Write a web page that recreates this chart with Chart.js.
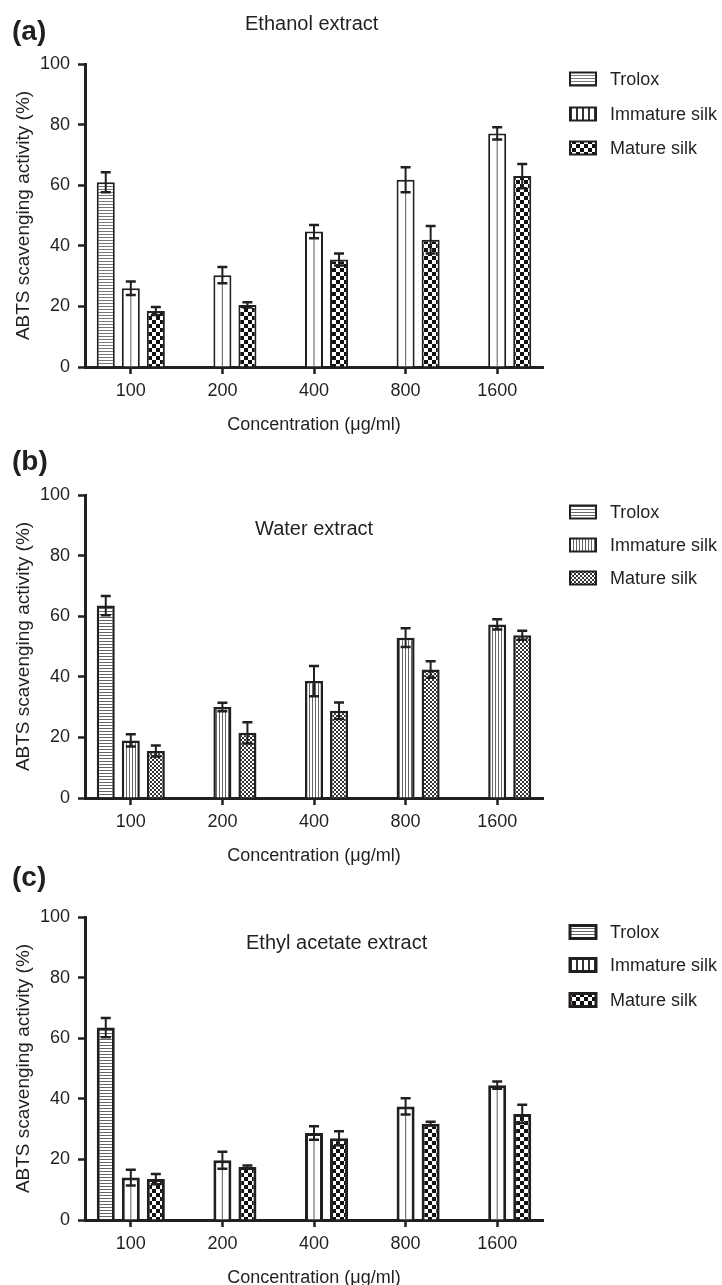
<!DOCTYPE html>
<html>
<head>
<meta charset="utf-8">
<script src="https://cdn.jsdelivr.net/npm/chart.js@4.4.1/dist/chart.umd.min.js"></script>
<style>
  html, body { margin: 0; padding: 0; background: #fff; overflow: hidden; }
  .panel { position: absolute; left: 0; width: 722px; height: 438px; }
</style>
</head>
<body>
<div class="panel" style="top:0px"><canvas id="chartA" width="722" height="438"></canvas></div>
<div class="panel" style="top:431px"><canvas id="chartB" width="722" height="438"></canvas></div>
<div class="panel" style="top:853px"><canvas id="chartC" width="722" height="438"></canvas></div>

<script>
// categories and series
const concentrations = ["100", "200", "400", "800", "1600"];
const seriesNames = ["Trolox", "Immature silk", "Mature silk"];
const yTicks = [0, 20, 40, 60, 80, 100];

// (a) Ethanol extract
const ethanolTrolox = [61, null, null, null, null];
const ethanolTroloxErr = [3.3, null, null, null, null];
const ethanolImmature = [26, 30.3, 44.7, 61.8, 77.1];
const ethanolImmatureErr = [2.2, 2.7, 2.2, 4.1, 2];
const ethanolMature = [18.5, 20.5, 35.5, 42, 63];
const ethanolMatureErr = [1.3, 0.9, 2, 4.5, 4];

// (b) Water extract
const waterTrolox = [63.5, null, null, null, null];
const waterTroloxErr = [3.2, null, null, null, null];
const waterImmature = [19, 30, 38.6, 52.9, 57.3];
const waterImmatureErr = [2, 1.4, 5, 3.1, 1.7];
const waterMature = [15.5, 21.5, 28.8, 42.4, 53.7];
const waterMatureErr = [1.8, 3.5, 2.7, 2.7, 1.5];

// (c) Ethyl acetate extract
const ethylTrolox = [63.5, null, null, null, null];
const ethylTroloxErr = [3.2, null, null, null, null];
const ethylImmature = [14, 19.7, 28.7, 37.5, 44.5];
const ethylImmatureErr = [2.6, 2.8, 2.2, 2.7, 1.2];
const ethylMature = [13.5, 17.5, 27, 31.8, 35];
const ethylMatureErr = [1.7, 0.5, 2.3, 0.6, 3];

const ink = "#231f20";
const family = "'Liberation Sans', Arial, sans-serif";
const H = 438;

// fill patterns
function makePattern(w, h, draw) {
  const c = document.createElement("canvas");
  c.width = w; c.height = h;
  const g = c.getContext("2d");
  g.fillStyle = "#fff";
  g.fillRect(0, 0, w, h);
  draw(g);
  return g.createPattern(c, "repeat");
}
const hStripes = (p, color) => makePattern(4, p, g => { g.fillStyle = color; g.fillRect(0, 0, 4, 1); });
const vStripes = (p, color, lw = 1) => makePattern(p, 4, g => { g.fillStyle = color; g.fillRect(0, 0, lw, 4); });
const checker = (s, color) => makePattern(2 * s, 2 * s, g => {
  g.fillStyle = color;
  g.fillRect(0, 0, s, s);
  g.fillRect(s, s, s, s);
});

// error bars drawn from the y scale
const errorBars = {
  id: "errorBars",
  afterDatasetsDraw(chart) {
    const ctx = chart.ctx, y = chart.scales.y;
    chart.data.datasets.forEach((ds, i) => {
      chart.getDatasetMeta(i).data.forEach((bar, j) => {
        const v = ds.data[j], e = ds.errors[j];
        if (v == null || e == null) return;
        const top = y.getPixelForValue(v + e), bot = y.getPixelForValue(v - e);
        ctx.save();
        ctx.strokeStyle = ink;
        ctx.lineWidth = 2;
        ctx.beginPath();
        ctx.moveTo(bar.x, top); ctx.lineTo(bar.x, bot);
        ctx.stroke();
        ctx.lineWidth = 2.5;
        ctx.beginPath();
        ctx.moveTo(bar.x - 5, top); ctx.lineTo(bar.x + 5, top);
        ctx.moveTo(bar.x - 5, bot); ctx.lineTo(bar.x + 5, bot);
        ctx.stroke();
        ctx.restore();
      });
    });
  }
};

// single grey line down the middle of open bars
const centerLine = {
  id: "centerLine",
  afterDatasetDraw(chart, args) {
    const ds = chart.data.datasets[args.index];
    if (!ds.centerLine) return;
    const ctx = chart.ctx;
    ctx.save();
    ctx.strokeStyle = "#777";
    ctx.lineWidth = 1.2;
    args.meta.data.forEach((bar, j) => {
      if (ds.data[j] == null) return;
      ctx.beginPath();
      ctx.moveTo(bar.x, bar.y);
      ctx.lineTo(bar.x, bar.base);
      ctx.stroke();
    });
    ctx.restore();
  }
};

// legend on the right
const sideLegend = {
  id: "sideLegend",
  afterDraw(chart, args, opts) {
    const ctx = chart.ctx;
    ctx.save();
    chart.data.datasets.forEach((ds, i) => {
      const cy = opts.ys[i];
      ctx.fillStyle = ds.legendFill || ds.backgroundColor;
      ctx.fillRect(opts.x, cy - 6.5, 26, 13);
      ctx.strokeStyle = ink;
      ctx.lineWidth = opts.border;
      ctx.strokeRect(opts.x, cy - 6.5, 26, 13);
      ctx.fillStyle = ink;
      ctx.font = "18px " + family;
      ctx.textBaseline = "middle";
      ctx.textAlign = "left";
      ctx.fillText(ds.label, opts.x + 40, cy + 1);
    });
    ctx.restore();
  }
};

// panel letter and subtitle
const panelText = {
  id: "panelText",
  afterDraw(chart, args, opts) {
    const ctx = chart.ctx;
    ctx.save();
    ctx.fillStyle = ink;
    ctx.textBaseline = "middle";
    ctx.textAlign = "left";
    ctx.font = "bold 28px " + family;
    ctx.fillText(opts.letter, 12, opts.letterY);
    ctx.font = "20px " + family;
    ctx.fillText(opts.title, opts.titleX, opts.titleY);
    ctx.restore();
  }
};

function buildChart(id, cfg) {
  const font = { family: family, size: 18 };
  const mk = (label, data, errors, fill, extra) => Object.assign({
    label: label,
    data: data,
    errors: errors,
    backgroundColor: fill,
    borderColor: ink,
    borderWidth: cfg.border,
    borderSkipped: "start"
  }, extra || {});
  return new Chart(document.getElementById(id), {
    type: "bar",
    data: {
      labels: concentrations,
      datasets: [
        mk(seriesNames[0], cfg.trolox, cfg.troloxErr, cfg.fills[0]),
        mk(seriesNames[1], cfg.immature, cfg.immatureErr, cfg.fills[1], cfg.immatureExtra),
        mk(seriesNames[2], cfg.mature, cfg.matureErr, cfg.fills[2])
      ]
    },
    options: {
      responsive: false,
      animation: false,
      layout: { padding: { top: 64, right: 179, left: 0, bottom: 0 } },
      datasets: { bar: { categoryPercentage: 0.82, barPercentage: 0.72 } },
      plugins: {
        legend: { display: false },
        tooltip: { enabled: false },
        sideLegend: { x: 570, ys: cfg.legendYs, border: cfg.legendBorder },
        panelText: cfg.text
      },
      scales: {
        x: {
          grid: { drawOnChartArea: false, drawTicks: true, offset: false, tickLength: 7, tickWidth: 2.5, color: ink },
          border: { display: true, color: ink, width: 3 },
          ticks: { color: ink, font: font, padding: 6 },
          title: { display: true, text: "Concentration (μg/ml)", color: ink, font: font, padding: { top: 0, bottom: 2 } },
          afterFit: s => { s.height = H - 367; }
        },
        y: {
          min: 0,
          max: 100,
          afterBuildTicks: s => { s.ticks = yTicks.map(v => ({ value: v })); },
          grid: { drawOnChartArea: false, drawTicks: true, tickLength: 7, tickWidth: 2.5, color: ink },
          border: { display: true, color: ink, width: 3 },
          ticks: { color: ink, font: font, padding: 8 },
          title: { display: true, text: "ABTS scavenging activity (%)", color: ink, font: { family: family, size: 19 }, padding: { top: 12, bottom: 0 } },
          afterFit: s => { s.width = 85; }
        }
      }
    },
    plugins: [centerLine, errorBars, sideLegend, panelText]
  });
}

buildChart("chartA", {
  trolox: ethanolTrolox, troloxErr: ethanolTroloxErr,
  immature: ethanolImmature, immatureErr: ethanolImmatureErr,
  mature: ethanolMature, matureErr: ethanolMatureErr,
  fills: [hStripes(3, "#777"), "#fff", checker(4, "#111")],
  immatureExtra: { centerLine: true, legendFill: vStripes(6, "#333", 2) },
  border: 2, legendBorder: 2, legendYs: [79, 114, 148],
  text: { letter: "(a)", letterY: 32, title: "Ethanol extract", titleX: 245, titleY: 24 }
});

buildChart("chartB", {
  trolox: waterTrolox, troloxErr: waterTroloxErr,
  immature: waterImmature, immatureErr: waterImmatureErr,
  mature: waterMature, matureErr: waterMatureErr,
  fills: [hStripes(3, "#666"), vStripes(3, "#666"), checker(2, "#333")],
  border: 2.5, legendBorder: 2, legendYs: [81, 114, 147],
  text: { letter: "(b)", letterY: 31, title: "Water extract", titleX: 255, titleY: 98 }
});

buildChart("chartC", {
  trolox: ethylTrolox, troloxErr: ethylTroloxErr,
  immature: ethylImmature, immatureErr: ethylImmatureErr,
  mature: ethylMature, matureErr: ethylMatureErr,
  fills: [hStripes(3, "#666"), "#fff", checker(4, "#111")],
  immatureExtra: { centerLine: true, legendFill: vStripes(6, "#333", 2) },
  border: 3, legendBorder: 3, legendYs: [79, 112, 147],
  text: { letter: "(c)", letterY: 25, title: "Ethyl acetate extract", titleX: 246, titleY: 90 }
});
</script>
</body>
</html>
